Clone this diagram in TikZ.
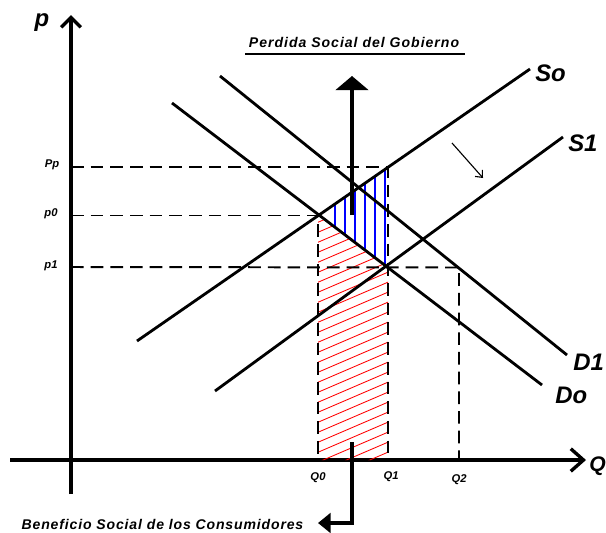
\documentclass[tikz,border=0pt]{standalone}
\usepackage{fontspec}
\setmainfont{Liberation Sans}
\usetikzlibrary{arrows.meta}

\begin{document}
\begin{tikzpicture}[x=0.025cm, y=-0.025cm,
                curve/.style={line width=2pt},
                axis/.style={line width=2.4pt},
                guide/.style={line width=1.4pt, dash pattern=on 9pt off 5pt},
                lbl/.style={font=\bfseries\itshape\fontsize{8}{9}\selectfont, inner sep=1pt},
                big/.style={font=\bfseries\itshape\fontsize{17}{18}\selectfont, inner sep=0pt},
                caption/.style={font=\bfseries\itshape\fontsize{10}{11}\selectfont, inner sep=1pt}
            ]
                \useasboundingbox (0,0) rectangle (606,533);

                % ejes
                \coordinate (ytop) at (71,15);
                \coordinate (ybot) at (71,494);
                \coordinate (xleft) at (10,460);
                \coordinate (xright) at (586,460);
                \draw[axis, -{Straight Barb[length=7pt, width=14pt]}] (ybot) -- (ytop);
                \draw[axis, -{Straight Barb[length=9pt, width=16pt]}] (xleft) -- (xright);
                \node[big] (p) at (42,23) {p};
                \node[big, anchor=west, font=\bfseries\itshape\fontsize{15}{16}\selectfont] (q) at (589,466) {Q};

                % puntos de equilibrio
                \coordinate (e0) at (318,215.5);
                \coordinate (e1) at (388,267);
                \coordinate (ep) at (388,167);
                \coordinate (e2) at (459,267.5);
                \coordinate (q0) at (318,460);
                \coordinate (q1) at (388,460);
                \coordinate (q2) at (459,460);
                \coordinate (pp) at (71,167);
                \coordinate (p0) at (71,215.5);
                \coordinate (p1) at (71,267);

                % areas
                \begin{scope}
                    \clip (e0) -- (ep) -- (e1) -- cycle;
                    \foreach \x in {335,345,...,385}
                        \draw[blue, line width=1pt] (\x,150) -- (\x,280);
                \end{scope}
                \begin{scope}
                    \clip (e0) -- (e1) -- (q1) -- (q0) -- cycle;
                    \foreach \c in {200,210,...,520}
                        \draw[red, line width=0.6pt] (300,\c) -- (400,\c-43);
                \end{scope}

                % lineas punteadas
                \draw[guide] (pp) -- (ep) -- (q1);
                \draw[guide] (p0) -- (e0) -- (q0);
                \draw[guide] (p1) -- (e2) -- (q2);
                \node[lbl] (lpp) at (52,165) {Pp};
                \node[lbl] (lp0) at (51,214) {p0};
                \node[lbl] (lp1) at (51,266) {p1};
                \node[lbl] (lq0) at (318,478) {Q0};
                \node[lbl] (lq1) at (391,477) {Q1};
                \node[lbl] (lq2) at (459,480) {Q2};

                % oferta y demanda
                \coordinate (so1) at (137,341);
                \coordinate (so2) at (530,69);
                \coordinate (s11) at (215,391);
                \coordinate (s12) at (563,137);
                \coordinate (do1) at (172,103);
                \coordinate (do2) at (542,385);
                \coordinate (d11) at (220,76);
                \coordinate (d12) at (567,355);
                \draw[curve] (so1) -- (so2);
                \draw[curve] (s11) -- (s12);
                \draw[curve] (do1) -- (do2);
                \draw[curve] (d11) -- (d12);
                \node[big, anchor=west] (lso) at (535,73) {So};
                \node[big, anchor=west] (ls1) at (568,143) {S1};
                \node[big, anchor=west] (ld1) at (573,362) {D1};
                \node[big, anchor=west] (ldo) at (555,395) {Do};

                % desplazamiento
                \coordinate (m1) at (452,143);
                \coordinate (m2) at (483,178);
                \draw[line width=0.8pt, -{Straight Barb[length=4pt, width=7pt]}] (m1) -- (m2);

                % perdida del gobierno
                \coordinate (g1) at (352,215);
                \coordinate (g2) at (352,76);
                \draw[line width=3pt, -{Triangle[length=10pt, width=23pt]}] (g1) -- (g2);
                \node[caption, font=\bfseries\itshape\fontsize{10}{11}\selectfont\addfontfeature{LetterSpace=7}] (gob) at (354,42) {Perdida Social del Gobierno};
                \draw[line width=1.5pt] (245,54) -- (465,54);

                % beneficio consumidores
                \coordinate (c1) at (352,442);
                \coordinate (c2) at (318,523);
                \draw[line width=2.5pt, -{Triangle[length=9pt, width=14pt]}] (c1) |- (c2);
                \node[caption, anchor=east, font=\bfseries\itshape\fontsize{10}{11}\selectfont\addfontfeature{LetterSpace=6}] (cons) at (305,524) {Beneficio Social de los Consumidores};
            \end{tikzpicture}
\end{document}
